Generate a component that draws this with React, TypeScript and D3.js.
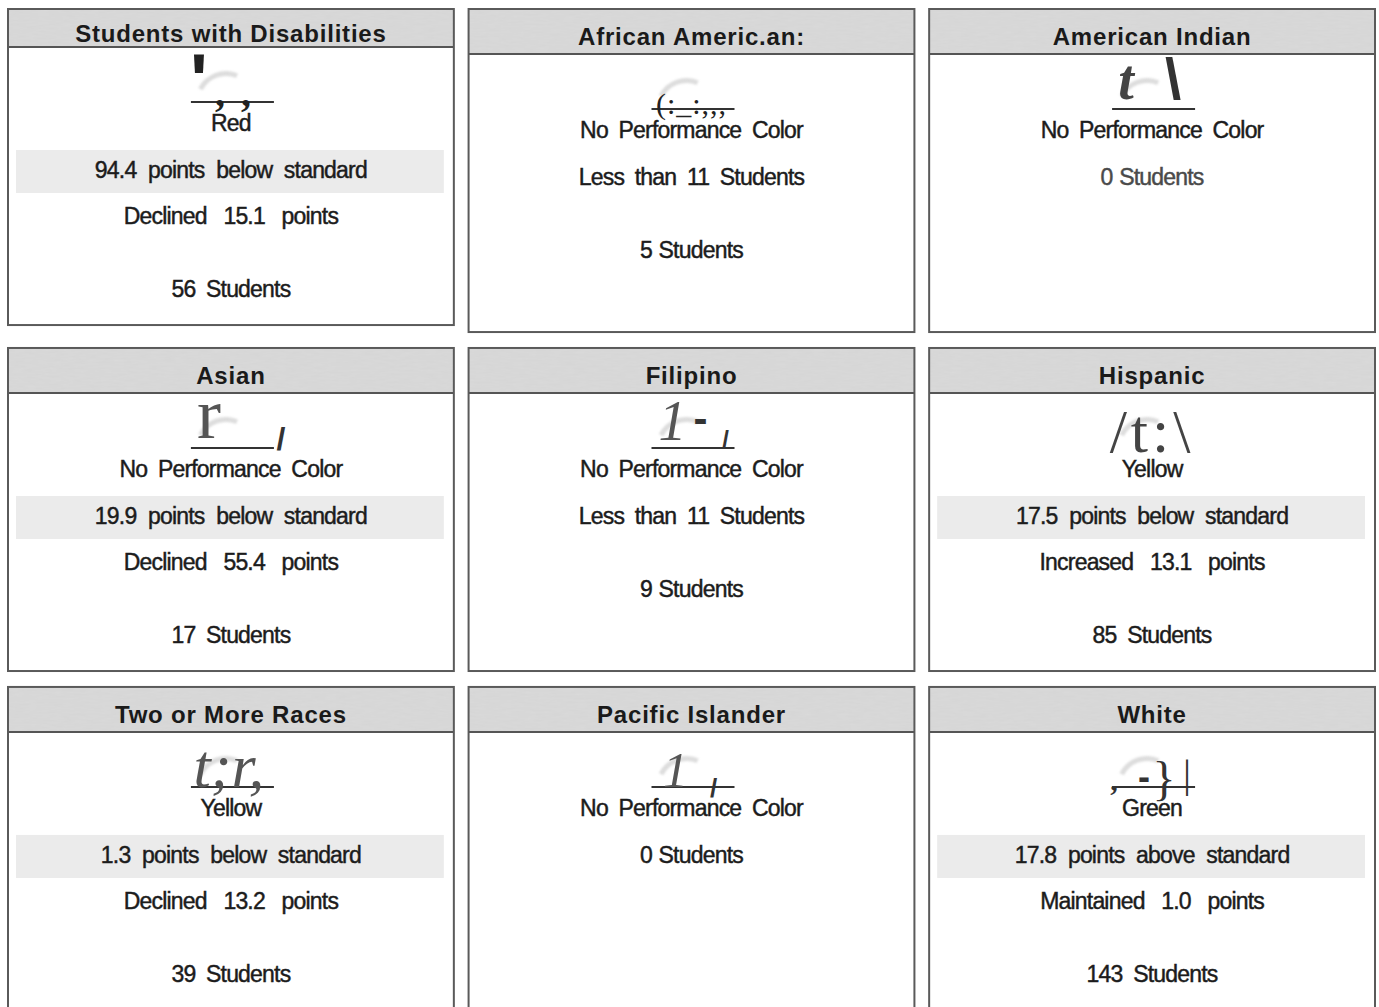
import React from 'react';
import * as d3 from 'd3';

// student groups, in reading order (3 x 3)
const groups = [
  'Students with Disabilities',
  'African Americ.an:',
  'American Indian',
  'Asian',
  'Filipino',
  'Hispanic',
  'Two or More Races',
  'Pacific Islander',
  'White',
];
const performanceColors = ['Red', null, null, null, null, 'Yellow', 'Yellow', null, 'Green'];
const distanceFromStandard = [-94.4, null, null, -19.9, null, -17.5, -1.3, null, 17.8];
const changeWords = ['Declined', null, null, 'Declined', null, 'Increased', 'Declined', null, 'Maintained'];
const changePoints = [15.1, null, null, 55.4, null, 13.1, 13.2, null, 1.0];
const studentCounts = [56, 5, 0, 17, 9, 85, 39, 0, 143];
const minGroupSize = 11;

// scanned gauge icons came out as stray glyphs
const iconGlyphs = [
  ["'", ',', ','],
  ['(:_:,,,'],
  ['t', '\\'],
  ['r', '/'],
  ['1', '-', '/'],
  ['/t:\\'],
  ['t;r,'],
  ['1', '/'],
  [',', '-', '}', '|'],
];

const W = 1379;
const H = 1007;
const SANS = '"Liberation Sans", Arial, Helvetica, sans-serif';
const SERIF = '"Liberation Serif", "Times New Roman", serif';
const INK = '#1c1c1c';

// glyph placement for each icon piece (offsets from icon centre / gauge baseline)
const glyphStyle: any[][] = [
  [
    { dx: -32, dy: 4, size: 75, fam: SANS, weight: 700 },
    { dx: -11, dy: 4, size: 40, fam: SERIF, weight: 700 },
    { dx: 15, dy: 4, size: 40, fam: SERIF, weight: 700 },
  ],
  [{ dx: 0, dy: 5, size: 30, fam: SERIF, ls: 1 }],
  [
    { dx: -26, dy: -10, size: 56, fam: SERIF, style: 'italic', weight: 700, fill: '#444' },
    { dx: 21, dy: -10, size: 58, fam: SANS, weight: 700, fill: '#333' },
  ],
  [
    { dx: -22, dy: -10, size: 72, fam: SERIF, fill: '#555' },
    { dx: 50, dy: 2, size: 32, fam: SANS, weight: 700, fill: '#333' },
  ],
  [
    { dx: -19, dy: -8, size: 56, fam: SERIF, style: 'italic', fill: '#555' },
    { dx: 9, dy: -15, size: 42, fam: SANS, weight: 700, fill: '#333' },
    { dx: 34, dy: 0, size: 24, fam: SANS, weight: 700, fill: '#333' },
  ],
  [{ dx: 0, dy: 4, size: 62, fam: SERIF, fill: '#444', ls: 4 }],
  [{ dx: -2, dy: 0, size: 62, fam: SERIF, style: 'italic', fill: '#555' }],
  [
    { dx: -16, dy: 0, size: 50, fam: SERIF, style: 'italic', fill: '#555' },
    { dx: 22, dy: 10, size: 26, fam: SANS, weight: 700, fill: '#333' },
  ],
  [
    { dx: -38, dy: 3, size: 30, fam: SERIF, weight: 700, fill: '#333' },
    { dx: -8, dy: 2, size: 36, fam: SANS, weight: 700, fill: '#333' },
    { dx: 12, dy: 8, size: 48, fam: SERIF, fill: '#333' },
    { dx: 35, dy: 0, size: 40, fam: SERIF, fill: '#333' },
  ],
];

const fmt = d3.format('.1f');

const col = d3.scaleBand<number>().domain([0, 1, 2]).range([8, 1375]).paddingInner(0.032);
const row = d3.scaleBand<number>().domain([0, 1, 2]).range([9, 1010]).paddingInner(0.047);

const smudge = d3.arc<any>()({
  innerRadius: 26,
  outerRadius: 31,
  startAngle: -1.1,
  endAngle: 0.4,
} as any) as string;

function cardLines(i: number) {
  const lines: { y: number; text: string; band?: boolean; ws: number; fill?: string }[] = [];
  lines.push({ y: 129, text: performanceColors[i] ?? 'No Performance Color', ws: 5 });
  let last = 129;
  const d = distanceFromStandard[i];
  if (d != null) {
    lines.push({
      y: 176,
      text: `${fmt(Math.abs(d))} points ${d < 0 ? 'below' : 'above'} standard`,
      band: true,
      ws: 6,
    });
    lines.push({ y: 222, text: `${changeWords[i]} ${fmt(changePoints[i]!)} points`, ws: 11 });
    last = 222;
  } else if (studentCounts[i] > 0 && studentCounts[i] < minGroupSize) {
    lines.push({ y: 176, text: `Less than ${minGroupSize} Students`, ws: 5 });
    last = 176;
  }
  const n = studentCounts[i];
  lines.push({
    y: last === 129 ? 176 : last + 73,
    text: `${n} Students`,
    ws: n < minGroupSize ? 1 : 5,
    fill: n === 0 && i === 2 ? '#4a4a4a' : INK,
  });
  return lines;
}

function Card({ i }: { i: number }) {
  const x = col(i % 3)!;
  const w = col.bandwidth();
  const squeeze = i === 0 ? 7 : 0;
  const top = row(Math.floor(i / 3))!;
  const h = row.bandwidth() - squeeze;
  const headH = 45 - squeeze;
  const cy = top - squeeze;
  const cx = x + w / 2;
  const gaugeY = cy + 100;

  return (
    <g>
      <rect x={x} y={top} width={w} height={h} fill="#fff" />
      <rect x={x} y={top} width={w} height={headH} fill="#dadada" filter="url(#grain)" />
      <line x1={x} x2={x + w} y1={top + headH} y2={top + headH} stroke="#555" strokeWidth={2} />
      <rect x={x} y={top} width={w} height={h} fill="none" stroke="#5a5a5a" strokeWidth={2} />
      <text
        x={cx}
        y={top + 36 - (i === 0 ? 3 : 0)}
        textAnchor="middle"
        fontFamily={SANS}
        fontWeight={700}
        fontSize={24}
        letterSpacing={0.8}
        fill="#1a1a1a"
      >
        {groups[i]}
      </text>

      {/* gauge remains */}
      <path d={smudge} transform={`translate(${cx - 5},${gaugeY})`} fill="#c6c6c6" opacity={0.6} filter="url(#soft)" />
      {i !== 5 && (
        <line x1={cx - 40} x2={cx + 43} y1={gaugeY} y2={gaugeY} stroke="#333" strokeWidth={2} />
      )}
      {iconGlyphs[i].map((g, k) => {
        const s = glyphStyle[i][k];
        return (
          <text
            key={k}
            x={cx + s.dx}
            y={gaugeY + s.dy}
            textAnchor="middle"
            fontFamily={s.fam}
            fontSize={s.size}
            fontWeight={s.weight ?? 400}
            fontStyle={s.style ?? 'normal'}
            letterSpacing={s.ls ?? 0}
            fill={s.fill ?? '#222'}
          >
            {g}
          </text>
        );
      })}

      {cardLines(i).map((l, k) => (
        <g key={k}>
          {l.band && (
            <rect x={x + 8} y={cy + 148} width={w - 18} height={43} fill="#ebebeb" />
          )}
          <text
            x={cx}
            y={cy + l.y}
            textAnchor="middle"
            fontFamily={SANS}
            fontSize={23}
            letterSpacing={-0.8}
            wordSpacing={l.ws}
            fill={l.fill ?? INK}
            stroke={l.fill ?? INK}
            strokeWidth={0.45}
          >
            {l.text}
          </text>
        </g>
      ))}
    </g>
  );
}

export default function App() {
  return (
    <svg
      width={W}
      height={H}
      viewBox={`0 0 ${W} ${H}`}
      style={{ position: 'absolute', left: 0, top: 0, background: '#fff' }}
    >
      <defs>
        <filter id="grain" x="0" y="0" width="100%" height="100%">
          <feTurbulence type="fractalNoise" baseFrequency="0.08 0.5" numOctaves={2} seed={3} result="n" />
          <feColorMatrix
            in="n"
            type="matrix"
            values="0 0 0 0 0.5  0 0 0 0 0.5  0 0 0 0 0.5  0 0 0 0.18 0"
            result="g"
          />
          <feComposite in="g" in2="SourceGraphic" operator="atop" />
        </filter>
        <filter id="soft">
          <feGaussianBlur stdDeviation={1.3} />
        </filter>
      </defs>
      {groups.map((_, i) => (
        <Card key={i} i={i} />
      ))}
    </svg>
  );
}
